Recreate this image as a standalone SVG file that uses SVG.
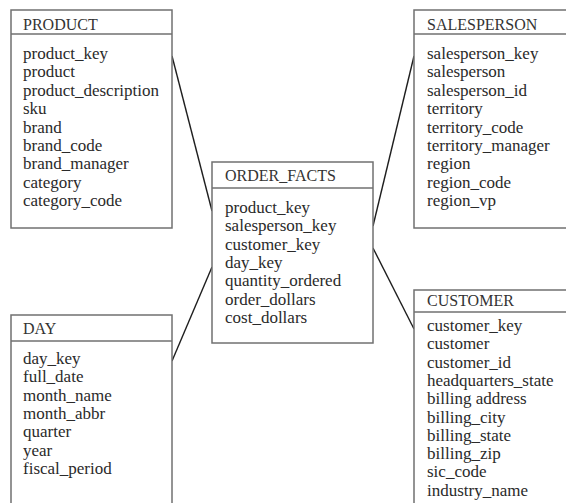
<svg xmlns="http://www.w3.org/2000/svg" width="566" height="503" viewBox="0 0 566 503">
<style>
.box{fill:#fff;stroke:#707070;stroke-width:1.5}
.div{stroke:#707070;stroke-width:1.5}
.t{font-family:"Liberation Serif","Times New Roman",serif;font-size:16px;fill:#333}
.i{font-family:"Liberation Serif","Times New Roman",serif;font-size:17px;fill:#2a2a2a}
.c{stroke:#1e1e1e;stroke-width:1.4;fill:none}
</style>
<rect width="566" height="503" fill="#fff"/>
<g id="connectors">
<line class="c" x1="172" y1="56" x2="212" y2="211"/>
<line class="c" x1="414" y1="56" x2="373" y2="226"/>
<line class="c" x1="373" y1="248" x2="414" y2="329"/>
<line class="c" x1="212" y1="267" x2="172" y2="361"/>
</g>
<g id="product">
<rect class="box" x="11" y="10" width="161" height="218"/>
<line class="div" x1="11" y1="34" x2="172" y2="34"/>
<text class="t" x="23" y="30">PRODUCT</text>
<text class="i" x="23" y="59">product_key</text>
<text class="i" x="23" y="77.4">product</text>
<text class="i" x="23" y="95.8">product_description</text>
<text class="i" x="23" y="114.2">sku</text>
<text class="i" x="23" y="132.6">brand</text>
<text class="i" x="23" y="151">brand_code</text>
<text class="i" x="23" y="169.4">brand_manager</text>
<text class="i" x="23" y="187.8">category</text>
<text class="i" x="23" y="206.2">category_code</text>
</g>
<g id="salesperson">
<rect class="box" x="414" y="10" width="170" height="218"/>
<line class="div" x1="414" y1="34" x2="584" y2="34"/>
<text class="t" x="427" y="30">SALESPERSON</text>
<text class="i" x="427" y="59">salesperson_key</text>
<text class="i" x="427" y="77.4">salesperson</text>
<text class="i" x="427" y="95.8">salesperson_id</text>
<text class="i" x="427" y="114.2">territory</text>
<text class="i" x="427" y="132.6">territory_code</text>
<text class="i" x="427" y="151">territory_manager</text>
<text class="i" x="427" y="169.4">region</text>
<text class="i" x="427" y="187.8">region_code</text>
<text class="i" x="427" y="206.2">region_vp</text>
</g>
<g id="order_facts">
<rect class="box" x="212" y="162" width="161" height="181"/>
<line class="div" x1="212" y1="188" x2="373" y2="188"/>
<text class="t" x="225" y="181">ORDER_FACTS</text>
<text class="i" x="225" y="213">product_key</text>
<text class="i" x="225" y="231.3">salesperson_key</text>
<text class="i" x="225" y="249.6">customer_key</text>
<text class="i" x="225" y="267.9">day_key</text>
<text class="i" x="225" y="286.2">quantity_ordered</text>
<text class="i" x="225" y="304.5">order_dollars</text>
<text class="i" x="225" y="322.8">cost_dollars</text>
</g>
<g id="day">
<rect class="box" x="11" y="315" width="161" height="200"/>
<line class="div" x1="11" y1="341" x2="172" y2="341"/>
<text class="t" x="23" y="334">DAY</text>
<text class="i" x="23" y="364">day_key</text>
<text class="i" x="23" y="382.3">full_date</text>
<text class="i" x="23" y="400.6">month_name</text>
<text class="i" x="23" y="418.9">month_abbr</text>
<text class="i" x="23" y="437.2">quarter</text>
<text class="i" x="23" y="455.5">year</text>
<text class="i" x="23" y="473.8">fiscal_period</text>
</g>
<g id="customer">
<rect class="box" x="414" y="290" width="170" height="230"/>
<line class="div" x1="414" y1="312" x2="584" y2="312"/>
<text class="t" x="427" y="306">CUSTOMER</text>
<text class="i" x="427" y="331">customer_key</text>
<text class="i" x="427" y="349.3">customer</text>
<text class="i" x="427" y="367.6">customer_id</text>
<text class="i" x="427" y="385.9">headquarters_state</text>
<text class="i" x="427" y="404.2">billing address</text>
<text class="i" x="427" y="422.5">billing_city</text>
<text class="i" x="427" y="440.8">billing_state</text>
<text class="i" x="427" y="459.1">billing_zip</text>
<text class="i" x="427" y="477.4">sic_code</text>
<text class="i" x="427" y="495.7">industry_name</text>
</g>
</svg>
